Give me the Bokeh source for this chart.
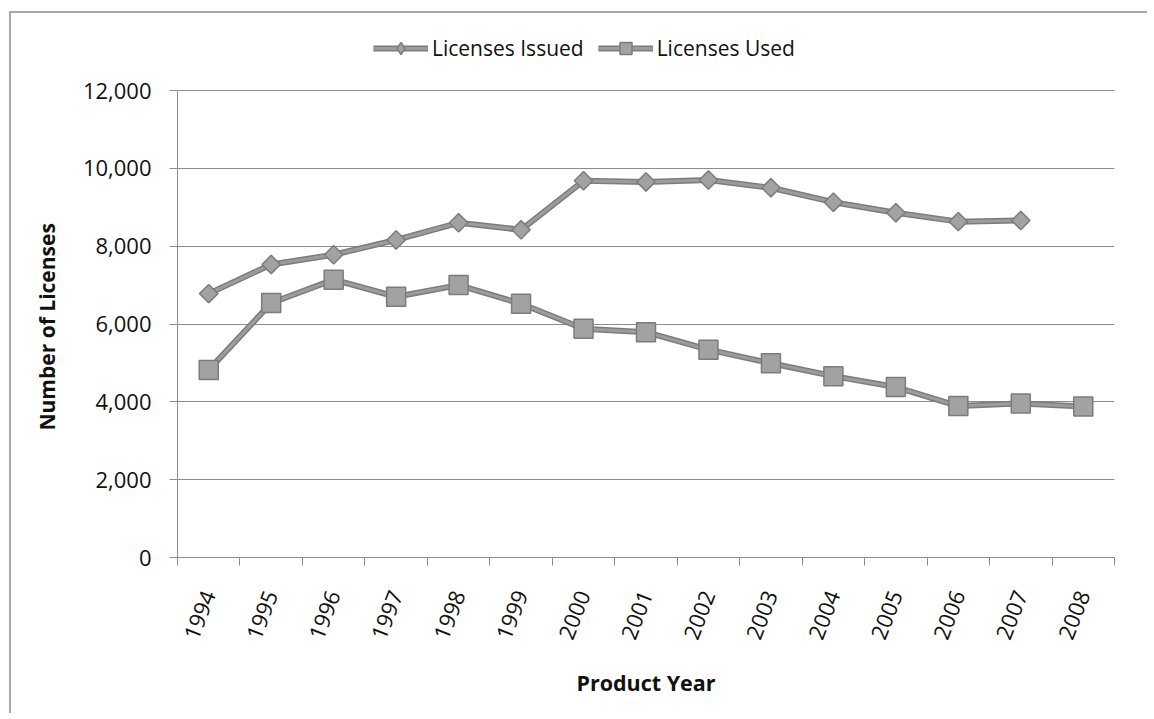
import numpy as np
from bokeh.plotting import figure
from bokeh.models import (ColumnDataSource, FixedTicker, NumeralTickFormatter, Legend,
                          LegendItem, Range1d, Title, CDSView, IndexFilter)
from bokeh.embed import file_html
from bokeh.resources import INLINE

years = ["1994", "1995", "1996", "1997", "1998", "1999", "2000", "2001",
         "2002", "2003", "2004", "2005", "2006", "2007", "2008"]
licenses_issued = [6780, 7530, 7780, 8160, 8600, 8420, 9680, 9650,
                   9700, 9500, 9130, 8860, 8630, 8660, np.nan]
licenses_used = [4820, 6540, 7140, 6700, 7000, 6520, 5880, 5790,
                 5340, 4990, 4660, 4380, 3890, 3960, 3880]
y_ticks = [0, 2000, 4000, 6000, 8000, 10000, 12000]

FONT = "Open Sans"
GRID = "#8c8c8c"
LINE_DARK = "#7c7c7c"
LINE_LIGHT = "#9c9c9c"
MARK_FILL = "#a2a2a2"

xs = list(range(len(years)))
src = ColumnDataSource(dict(x=xs, issued=licenses_issued, used=licenses_used))

# frame spans from the legend row down to 0; the axis itself is bounded at 12,000
Y_TOP = 12000 * 522 / 467
p = figure(width=1138, height=702, output_backend="svg", toolbar_location=None,
           x_range=Range1d(-0.5, len(years) - 0.5), y_range=Range1d(0, Y_TOP),
           min_border_left=163, min_border_right=35, min_border_top=22,
           min_border_bottom=158)
p.styles = {"position": "relative", "left": "11px", "top": "13px",
            "box-shadow": "-2px -2px 0px 0px #a8a8a8"}
p.outline_line_color = None
p.background_fill_color = "white"
p.border_fill_color = "white"

# axes
p.xaxis.ticker = FixedTicker(ticks=xs, minor_ticks=[i - 0.5 for i in range(len(years) + 1)])
p.xaxis.major_label_overrides = {i: y for i, y in enumerate(years)}
p.xaxis.major_label_orientation = 1.2
p.xaxis.major_tick_out = 0
p.xaxis.major_tick_in = 0
p.xaxis.minor_tick_out = 8
p.xaxis.minor_tick_in = 0
p.xaxis.minor_tick_line_color = GRID
p.xaxis.major_label_standoff = 26
p.xaxis.axis_label = "Product Year"
p.xaxis.axis_label_standoff = 21

p.yaxis.ticker = FixedTicker(ticks=y_ticks)
p.yaxis.bounds = (0, 12000)
p.yaxis.formatter = NumeralTickFormatter(format="0,0")
p.yaxis.major_tick_out = 8
p.yaxis.major_tick_in = 0
p.yaxis.minor_tick_line_color = None
p.yaxis.major_label_standoff = 18

for ax in (p.xaxis, p.yaxis):
    ax.axis_line_color = GRID
    ax.major_tick_line_color = GRID
    ax.major_label_text_font = FONT
    ax.major_label_text_font_size = "22px"
    ax.major_label_text_color = "#111111"
    ax.axis_label_text_font = FONT
    ax.axis_label_text_font_size = "21.5px"
    ax.axis_label_text_font_style = "bold"
    ax.axis_label_text_color = "#111111"

# y axis title, centred on the 0..12,000 span of the axis
ytitle = Title(text="Number of Licenses", align="left", offset=127, standoff=38,
               text_font=FONT, text_font_size="21px", text_font_style="bold",
               text_color="#111111")
p.add_layout(ytitle, "left")

p.xgrid.grid_line_color = None
p.ygrid.grid_line_color = GRID
p.ygrid.grid_line_width = 1

# series (the diamond key glyph is drawn first, hidden under the first marker,
# so that the legend can show a diamond)
i_dark = p.line("x", "issued", source=src, line_color=LINE_DARK, line_width=6)
i_light = p.line("x", "issued", source=src, line_color=LINE_LIGHT, line_width=3)
i_key = p.scatter("x", "issued", source=src, view=CDSView(filter=IndexFilter(indices=[0])),
                  marker="diamond", size=17, fill_color=MARK_FILL,
                  line_color=LINE_DARK, line_width=1.5)
i_mark = p.scatter("x", "issued", source=src, marker="square", angle=np.pi / 4, size=13,
                   fill_color=MARK_FILL, line_color=LINE_DARK, line_width=1.5)
u_dark = p.line("x", "used", source=src, line_color=LINE_DARK, line_width=6)
u_light = p.line("x", "used", source=src, line_color=LINE_LIGHT, line_width=3)
u_mark = p.scatter("x", "used", source=src, marker="square", size=19,
                   fill_color=MARK_FILL, line_color=LINE_DARK, line_width=1.5)

legend = Legend(items=[LegendItem(label="Licenses Issued", renderers=[i_dark, i_light, i_key]),
                       LegendItem(label="Licenses Used", renderers=[u_dark, u_light, u_mark])],
                orientation="horizontal", location=(196, 494),
                glyph_width=55, glyph_height=30, label_height=30, label_standoff=4,
                spacing=14, padding=0, margin=0, border_line_color=None,
                background_fill_alpha=0, label_text_font=FONT,
                label_text_font_size="21px", label_text_color="#111111")
p.add_layout(legend, "center")

open("out.html", "w").write(file_html(p, INLINE))
